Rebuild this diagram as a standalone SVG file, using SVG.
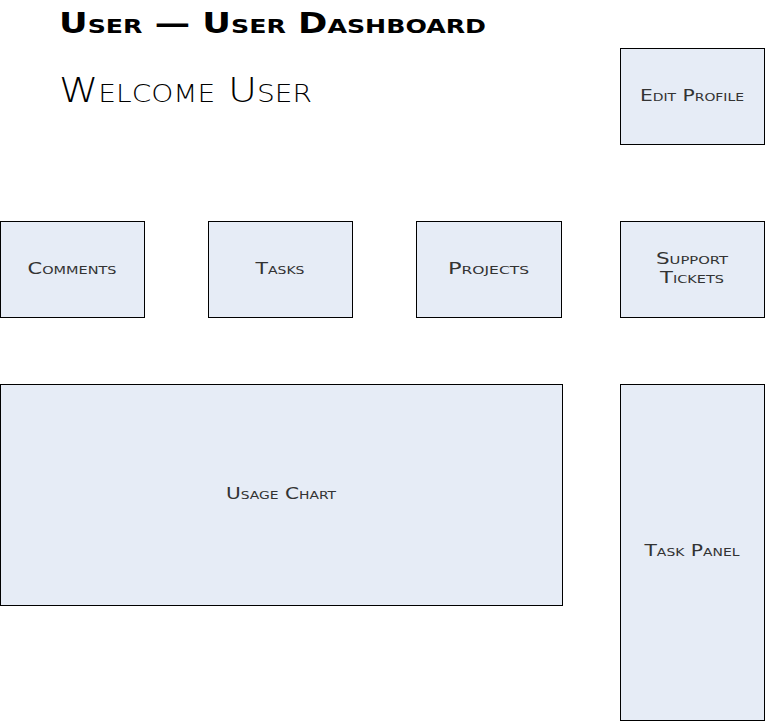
<svg xmlns="http://www.w3.org/2000/svg" width="765" height="721" viewBox="0 0 765 721">
<style>
.box{fill:#E6ECF6;stroke:#000;stroke-width:1}
.lbl{font-family:"DejaVu Sans","Liberation Sans",sans-serif;font-variant:small-caps;font-size:16px;fill:#333;text-anchor:middle}
.title{font-family:"DejaVu Sans","Liberation Sans",sans-serif;font-variant:small-caps;font-weight:bold;font-size:28px;fill:#000}
.welcome{font-family:"DejaVu Sans","Liberation Sans",sans-serif;font-variant:small-caps;font-weight:300;font-size:34px;fill:#000}
</style>
<rect width="765" height="721" fill="#fff"/>
<text class="title" x="59" y="33" textLength="427" lengthAdjust="spacingAndGlyphs">User — User Dashboard</text>
<text class="welcome" x="59" y="102" textLength="253" lengthAdjust="spacingAndGlyphs">Welcome User</text>
<g id="edit-profile"><rect class="box" x="620.5" y="48.5" width="144" height="96"/><text class="lbl" x="692" y="101" textLength="104" lengthAdjust="spacingAndGlyphs">Edit Profile</text></g>
<g id="comments"><rect class="box" x="0.5" y="221.5" width="144" height="96"/><text class="lbl" x="72" y="274" textLength="89" lengthAdjust="spacingAndGlyphs">Comments</text></g>
<g id="tasks"><rect class="box" x="208.5" y="221.5" width="144" height="96"/><text class="lbl" x="280" y="274" textLength="49" lengthAdjust="spacingAndGlyphs">Tasks</text></g>
<g id="projects"><rect class="box" x="416.5" y="221.5" width="145" height="96"/><text class="lbl" x="488.5" y="274" textLength="81" lengthAdjust="spacingAndGlyphs">Projects</text></g>
<g id="support-tickets"><rect class="box" x="620.5" y="221.5" width="144" height="96"/><text class="lbl" x="692" y="264" textLength="72" lengthAdjust="spacingAndGlyphs">Support</text><text class="lbl" x="692" y="283" textLength="64" lengthAdjust="spacingAndGlyphs">Tickets</text></g>
<g id="usage-chart"><rect class="box" x="0.5" y="384.5" width="562" height="221"/><text class="lbl" x="281" y="499" textLength="110" lengthAdjust="spacingAndGlyphs">Usage Chart</text></g>
<g id="task-panel"><rect class="box" x="620.5" y="384.5" width="144" height="336"/><text class="lbl" x="692" y="556" textLength="95" lengthAdjust="spacingAndGlyphs">Task Panel</text></g>
<g id="connectors"></g>
</svg>
